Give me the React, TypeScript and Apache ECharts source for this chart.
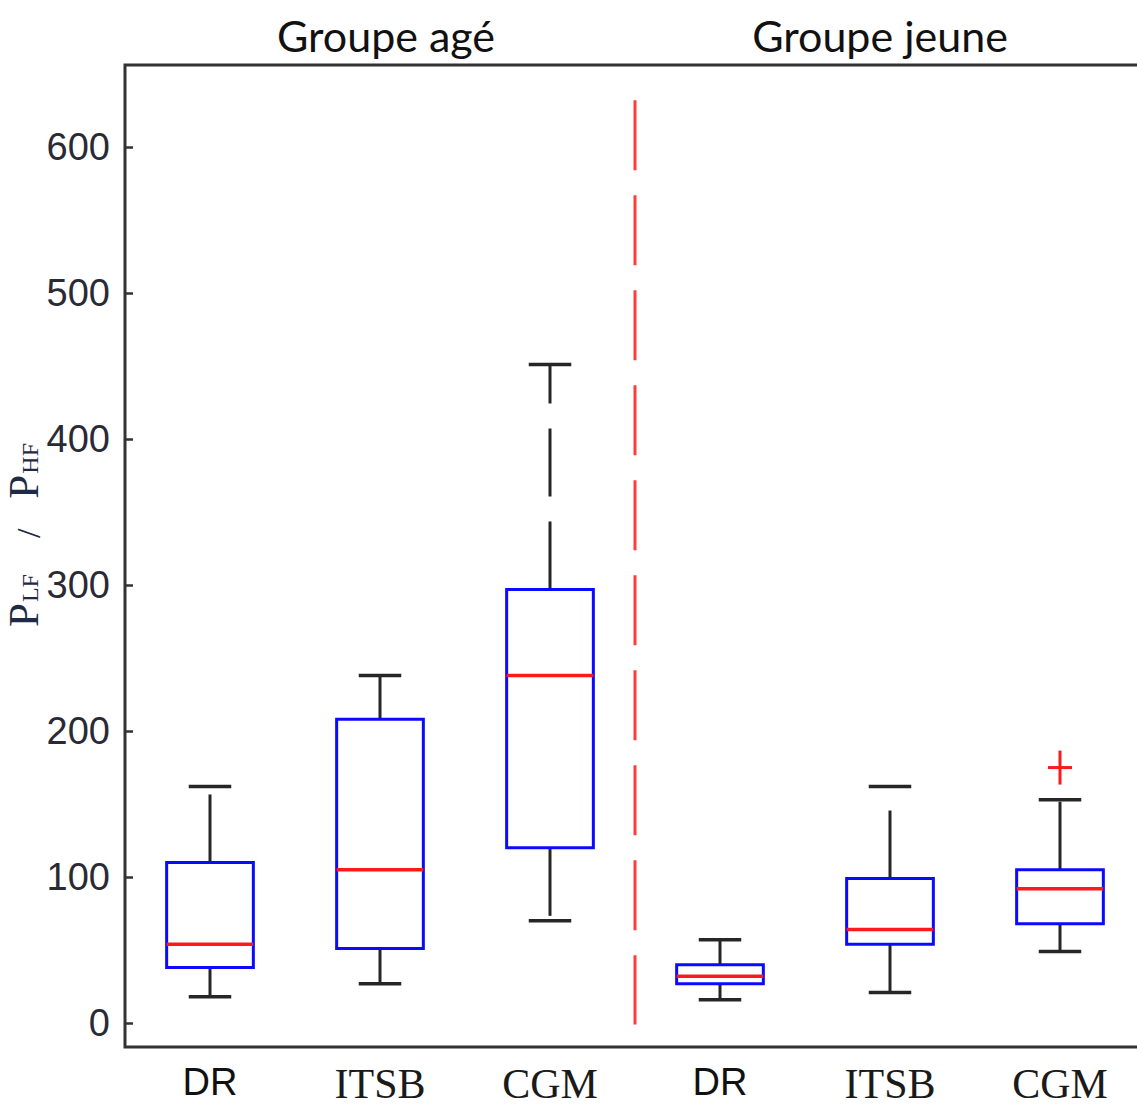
import React, { useEffect, useRef } from 'react';
import * as echarts from 'echarts';

// Group headings and method names on the category axis
const groupTitles = ['Groupe agé', 'Groupe jeune'];
const methodLabels = ['DR', 'ITSB', 'CGM', 'DR', 'ITSB', 'CGM'];

// Box-plot statistics (PLF / PHF), one entry per category
const lowerWhisker = [18, 27, 70, 16, 21, 49];
const lowerQuartile = [38, 51, 120, 27, 54, 68];
const medianValues = [54, 105, 238, 32, 64, 92];
const upperQuartile = [110, 208, 297, 40, 99, 105];
const upperWhisker = [162, 238, 451, 57, 162, 153];

// Outliers (category index, value)
const outlierIndex = [5];
const outlierValue = [175];

// Dashed separator between the two groups (between categories 2 and 3)
const separatorBetween = [2, 3];
const separatorRange = [-1, 632];

// Value-axis extent
const yMin = -16.4;
const yMax = 656.2;

const boxRows = methodLabels.map((_, i) => [
  i,
  lowerWhisker[i],
  lowerQuartile[i],
  medianValues[i],
  upperQuartile[i],
  upperWhisker[i],
]);

const outlierRows = outlierIndex.map((c, k) => [c, outlierValue[k]]);

const WHISKER = '#262626';
const BOX = '#0a0aff';
const MEDIAN = '#ff1a1a';
const NAME_COLOR = '#1f2a44';

function renderBox(params: any, api: any) {
  const i = api.value(0);
  const x = api.coord([i, 0])[0];
  const yLow = api.coord([i, api.value(1)])[1];
  const yQ1 = api.coord([i, api.value(2)])[1];
  const yMed = api.coord([i, api.value(3)])[1];
  const yQ3 = api.coord([i, api.value(4)])[1];
  const yHigh = api.coord([i, api.value(5)])[1];
  const band = api.size([1, 0])[0];
  const boxHalf = band * 0.255;
  const capHalf = band * 0.125;
  const whiskerStyle = { stroke: WHISKER, lineWidth: 3, lineDash: [68, 25], fill: 'none' };
  const capStyle = { stroke: WHISKER, lineWidth: 3.5, fill: 'none' };
  return {
    type: 'group',
    children: [
      { type: 'line', shape: { x1: x, y1: yQ3, x2: x, y2: yHigh }, style: whiskerStyle },
      { type: 'line', shape: { x1: x, y1: yQ1, x2: x, y2: yLow }, style: whiskerStyle },
      { type: 'line', shape: { x1: x - capHalf, y1: yHigh, x2: x + capHalf, y2: yHigh }, style: capStyle },
      { type: 'line', shape: { x1: x - capHalf, y1: yLow, x2: x + capHalf, y2: yLow }, style: capStyle },
      {
        type: 'rect',
        shape: { x: x - boxHalf, y: yQ3, width: boxHalf * 2, height: yQ1 - yQ3 },
        style: { fill: 'none', stroke: BOX, lineWidth: 3 },
      },
      {
        type: 'line',
        shape: { x1: x - boxHalf, y1: yMed, x2: x + boxHalf, y2: yMed },
        style: { stroke: MEDIAN, lineWidth: 3.5 },
      },
    ],
  };
}

function renderSeparator(params: any, api: any) {
  const xa = api.coord([api.value(0), 0])[0];
  const xb = api.coord([api.value(1), 0])[0];
  const x = (xa + xb) / 2;
  const yBottom = api.coord([api.value(0), api.value(2)])[1];
  const yTop = api.coord([api.value(0), api.value(3)])[1];
  return {
    type: 'line',
    shape: { x1: x, y1: yTop, x2: x, y2: yBottom },
    style: { stroke: '#ff3c3c', lineWidth: 3, lineDash: [70, 25], fill: 'none' },
  };
}

function renderOutlier(params: any, api: any) {
  const [x, y] = api.coord([api.value(0), api.value(1)]);
  const style = { stroke: '#ff1a1a', lineWidth: 3, fill: 'none' };
  return {
    type: 'group',
    children: [
      { type: 'line', shape: { x1: x - 12, y1: y, x2: x + 12, y2: y }, style },
      { type: 'line', shape: { x1: x, y1: y - 17, x2: x, y2: y + 17 }, style },
    ],
  };
}

export default function App() {
  const ref = useRef<HTMLDivElement>(null);

  useEffect(() => {
    if (!ref.current) return;
    const chart = echarts.init(ref.current, null, { renderer: 'svg' });
    const option: any = {
      animation: false,
      backgroundColor: '#ffffff',
      grid: {
        left: 125,
        top: 65,
        right: -8,
        bottom: 59,
        containLabel: false,
        outerBoundsMode: 'none',
        show: true,
        borderColor: '#333333',
        borderWidth: 3,
        backgroundColor: 'transparent',
      },
      xAxis: {
        type: 'category',
        data: methodLabels,
        boundaryGap: true,
        axisLine: { show: false },
        axisTick: { show: false },
        splitLine: { show: false },
        axisLabel: {
          margin: 16,
          interval: 0,
          formatter: (v: string) => (v === 'DR' ? `{sans|${v}}` : `{serif|${v}}`),
          rich: {
            sans: { fontFamily: 'Liberation Sans', fontSize: 38, color: '#111111' },
            serif: { fontFamily: 'Liberation Serif', fontSize: 42, color: '#1a1a1a' },
          },
        },
      },
      yAxis: {
        type: 'value',
        min: yMin,
        max: yMax,
        axisLine: { show: false },
        splitLine: { show: false },
        axisTick: { show: true, inside: true, length: 8, lineStyle: { color: '#333333', width: 2.5 } },
        axisLabel: {
          margin: 15,
          showMinLabel: false,
          showMaxLabel: false,
          fontFamily: '"Liberation Sans", sans-serif',
          fontSize: 38,
          color: '#2a2a34',
          formatter: (v: number) => (Math.abs(v - Math.round(v / 100) * 100) < 1e-6 ? String(Math.round(v)) : ''),
        },
        name: '{gap|}{p|P}{s|LF}{sl|/}{p|P}{s|HF}',
        nameLocation: 'middle',
        nameRotate: 90,
        nameGap: 80,
        nameMoveOverlap: false,
        nameTextStyle: {
          rich: {
            p: { fontFamily: 'Liberation Serif', fontSize: 43, color: NAME_COLOR, verticalAlign: 'bottom', lineHeight: 42 },
            s: { fontFamily: 'Liberation Serif', fontSize: 24, color: NAME_COLOR, verticalAlign: 'bottom', lineHeight: 28, padding: [0, 0, 3, 1] },
            sl: { fontFamily: 'Liberation Serif', fontSize: 34, color: NAME_COLOR, verticalAlign: 'bottom', lineHeight: 40, padding: [0, 30, 0, 36] },
            gap: { width: 42, fontSize: 10 },
          },
        },
      },
      graphic: [
        {
          type: 'text',
          x: 386,
          y: 35,
          style: { text: groupTitles[0], fontFamily: 'Lato', fontSize: 43, fill: '#111111', align: 'center', verticalAlign: 'middle' },
        },
        {
          type: 'text',
          x: 880,
          y: 35,
          style: { text: groupTitles[1], fontFamily: 'Lato', fontSize: 43, fill: '#111111', align: 'center', verticalAlign: 'middle' },
        },
      ],
      series: [
        {
          type: 'custom',
          name: 'separator',
          renderItem: renderSeparator,
          data: [[separatorBetween[0], separatorBetween[1], separatorRange[0], separatorRange[1]]],
          encode: { x: [0, 1], y: [2, 3] },
          silent: true,
        },
        {
          type: 'custom',
          name: 'boxes',
          renderItem: renderBox,
          data: boxRows,
          encode: { x: 0, y: [1, 2, 3, 4, 5] },
          silent: true,
        },
        {
          type: 'custom',
          name: 'outliers',
          renderItem: renderOutlier,
          data: outlierRows,
          encode: { x: 0, y: 1 },
          silent: true,
        },
      ],
    };
    chart.setOption(option);
    return () => chart.dispose();
  }, []);

  return (
    <div
      ref={ref}
      style={{ position: 'fixed', left: 0, top: 0, width: 1137, height: 1106, background: '#fff' }}
    />
  );
}
